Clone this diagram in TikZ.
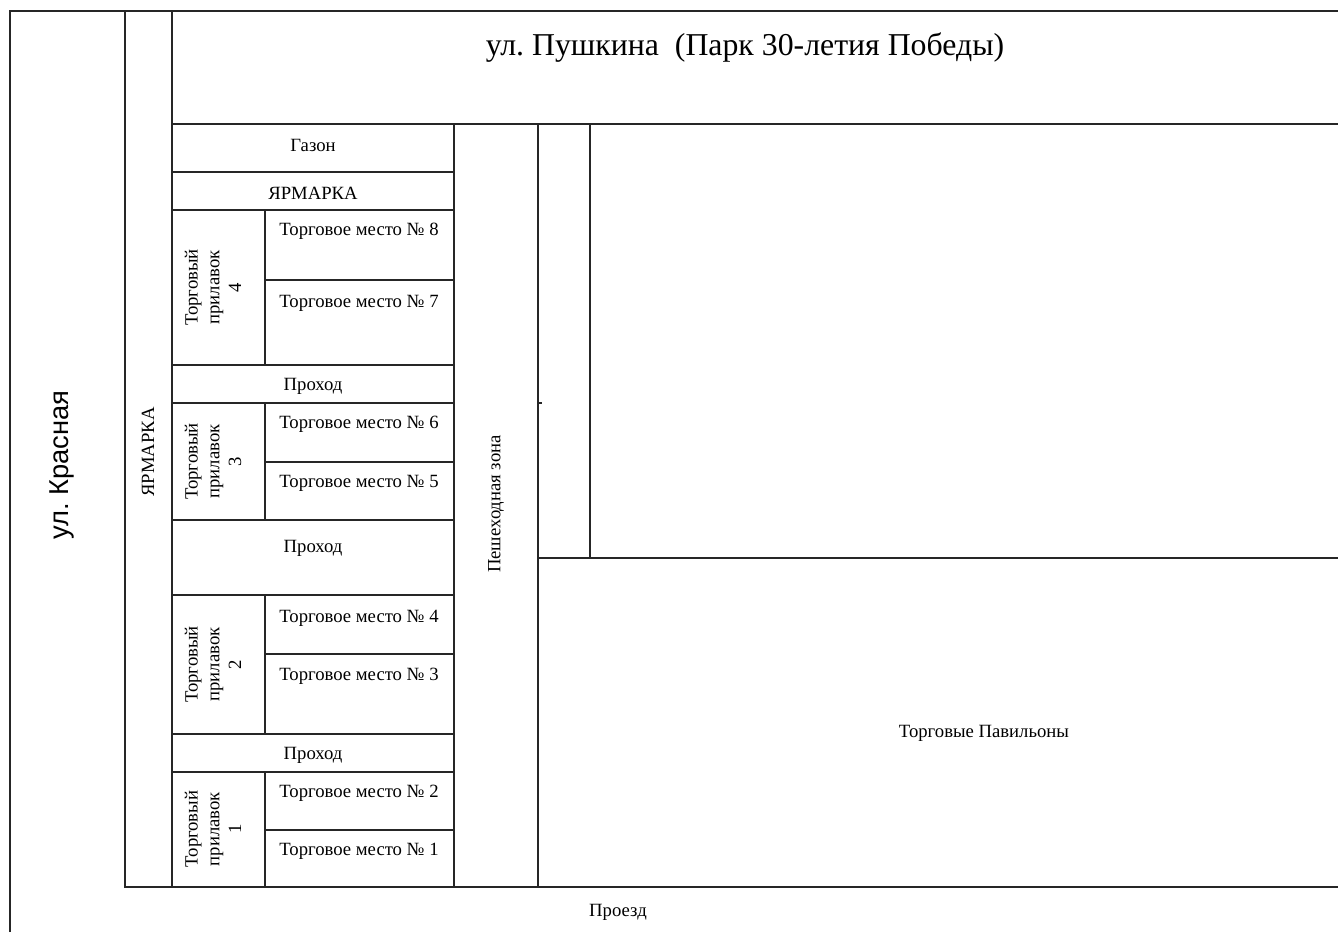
\documentclass[tikz,border=0pt]{standalone}
\usepackage{fontspec}
\setmainfont{Liberation Serif}
\newfontfamily\arialfont{Liberation Sans}
\begin{document}
\frenchspacing
\begin{tikzpicture}[x=1pt,y=-1pt,
  ln/.style={line width=1.3pt, draw=black!85},
  lbl/.style={font=\fontsize{18.7}{21.8}\selectfont, inner sep=0pt, align=center},
  big/.style={font=\fontsize{31.8}{36}\selectfont, inner sep=0pt}]
\useasboundingbox (0,0) rectangle (1338,932);
% frame lines
\draw[ln] (10,932) -- (10,11) -- (1338,11);
\draw[ln] (125,11) -- (125,887) -- (1338,887);
\draw[ln] (172,11) -- (172,887);
\draw[ln] (172,124) -- (1338,124);
\draw[ln] (454,124) -- (454,887);
\draw[ln] (538,124) -- (538,887);
\draw[ln] (590,124) -- (590,558);
\draw[ln] (538,558) -- (1338,558);
\draw[ln] (538,403) -- (542,403);
% fair column rows
\foreach \yy in {172,210,365,403,520,595,734,772}
  \draw[ln] (172,\yy) -- (454,\yy);
\foreach \yy in {280,462,654,830}
  \draw[ln] (265,\yy) -- (454,\yy);
\draw[ln] (265,210) -- (265,365);
\draw[ln] (265,403) -- (265,520);
\draw[ln] (265,595) -- (265,734);
\draw[ln] (265,772) -- (265,887);
% texts
\node[big] (title) at (745,48) {ул. Пушкина\ \ (Парк 30-летия Победы)};
\node[inner sep=0pt, font=\arialfont\fontsize{27.3}{30}\selectfont, rotate=90] (krasn) at (62,465) {ул. Красная};
\node[lbl, rotate=90] (yarmv) at (148,452) {ЯРМАРКА};
\node[lbl] (gazon) at (313,145) {Газон};
\node[lbl] (yarmh) at (313,193) {ЯРМАРКА};
\node[lbl] (pr1) at (313,386) {Проход};
\node[lbl] (pr2) at (313,548) {Проход};
\node[lbl] (pr3) at (313,755) {Проход};
\node[lbl] (m8) at (359,231) {Торговое место № 8};
\node[lbl] (m7) at (359,303) {Торговое место № 7};
\node[lbl] (m6) at (359,424) {Торговое место № 6};
\node[lbl] (m5) at (359,483) {Торговое место № 5};
\node[lbl] (m4) at (359,618) {Торговое место № 4};
\node[lbl] (m3) at (359,676) {Торговое место № 3};
\node[lbl] (m2) at (359,793) {Торговое место № 2};
\node[lbl] (m1) at (359,851) {Торговое место № 1};
\node[lbl, rotate=90] (c4) at (213,287.5) {Торговый\\прилавок\\4};
\node[lbl, rotate=90] (c3) at (213,461.5) {Торговый\\прилавок\\3};
\node[lbl, rotate=90] (c2) at (213,664.5) {Торговый\\прилавок\\2};
\node[lbl, rotate=90] (c1) at (213,829) {Торговый\\прилавок\\1};
\node[lbl, rotate=90] (walk) at (496,504) {Пешеходная зона};
\node[lbl] (pav) at (984,733) {Торговые Павильоны};
\node[lbl] (proezd) at (618,912) {Проезд};
\end{tikzpicture}
\end{document}
